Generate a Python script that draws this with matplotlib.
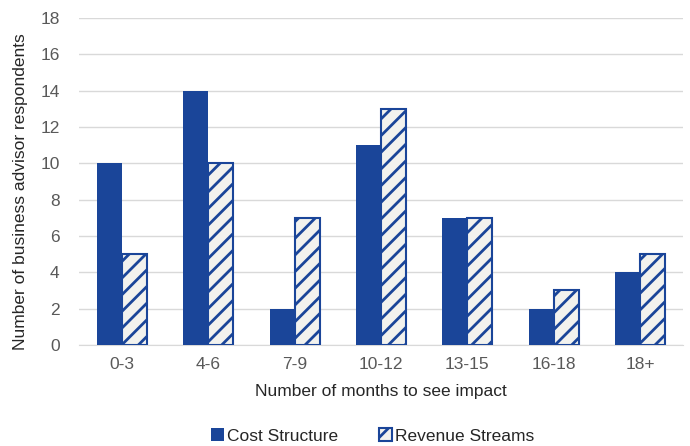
import numpy as np
import matplotlib
matplotlib.use('Agg')
import matplotlib.pyplot as plt

categories = ['0-3', '4-6', '7-9', '10-12', '13-15', '16-18', '18+']
cost_structure = [10, 14, 2, 11, 7, 2, 4]
revenue_streams = [5, 10, 7, 13, 7, 3, 5]

blue = '#1a4599'
plt.rcParams['font.family'] = ['Liberation Sans', 'DejaVu Sans']
plt.rcParams['hatch.linewidth'] = 2.0
plt.rcParams['hatch.color'] = blue

fig = plt.figure(figsize=(6.9, 4.46), dpi=100)
ax = fig.add_axes([0.1145, 0.2265, 0.8755, 0.733])

x = np.arange(len(categories))
w = 0.29
ax.bar(x - w / 2, cost_structure, w, color=blue, label='Cost Structure', zorder=3)
ax.bar(x + w / 2, revenue_streams, w, facecolor='#f2f2ee', edgecolor=blue,
       linewidth=1.5, hatch='//', label='Revenue Streams', zorder=3)

ax.set_ylim(0, 18)
ax.set_yticks(range(0, 19, 2))
ax.set_xlim(-0.5, len(categories) - 0.5)
ax.set_xticks(x)
ax.set_xticklabels(categories)
ax.tick_params(length=0, labelsize=12.5, colors='#595959', pad=9)
ax.tick_params(axis='y', pad=14)
ax.yaxis.grid(True, color='#d9d9d9', linewidth=1)
ax.set_axisbelow(True)
for s in ['top', 'right', 'left']:
    ax.spines[s].set_visible(False)
ax.spines['bottom'].set_color('#d9d9d9')

ax.set_xlabel('Number of months to see impact', fontsize=12.5, color='#262626', labelpad=8)
ax.set_ylabel('Number of business advisor respondents', fontsize=12.5, color='#262626', labelpad=3)
ax.yaxis.set_label_coords(-0.085, 0.47)

fig.legend(loc='lower center', bbox_to_anchor=(0.54, -0.03), ncol=2, frameon=False,
           fontsize=12.5, handlelength=0.75, handleheight=0.75, handletextpad=0.2,
           columnspacing=2.3, labelcolor='#262626')

fig.savefig('out.png', dpi=100)
